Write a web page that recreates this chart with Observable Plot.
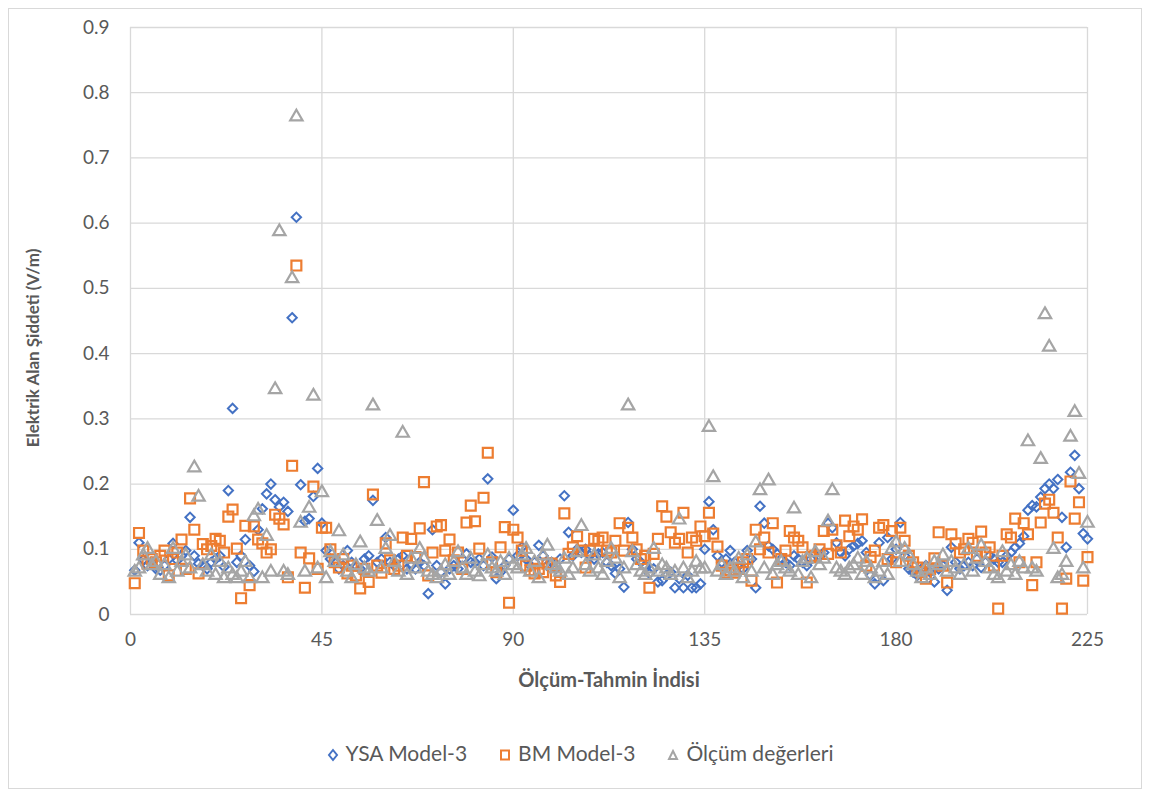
<!DOCTYPE html>
<html><head><meta charset="utf-8">
<script src="https://cdn.jsdelivr.net/npm/d3@7"></script>
<script src="https://cdn.jsdelivr.net/npm/@observablehq/plot@0.6"></script>
<style>
body{margin:0;background:#fff;font-family:Lato,"Noto Sans",sans-serif;}
#wrap{position:relative;width:1150px;height:796px;}
#frame{position:absolute;left:8px;top:8px;width:1134px;height:781px;border:1px solid #d9d9d9;box-sizing:border-box;}
#chart{position:absolute;left:0;top:0;}
#legend{position:absolute;left:0;top:740px;width:1160px;text-align:center;font-size:21px;color:#595959;}
#legend span{margin:0 16px;}
#legend svg{vertical-align:middle;margin-right:7px;position:relative;top:-1px;}
</style></head>
<body><div id="wrap"><div id="frame"></div><div id="chart"></div>
<div id="legend"></div></div>
<script>
const ysa = [
0.068,0.11,0.084,0.075,0.08,0.07,0.068,0.075,0.085,0.109,0.083,0.09,0.098,0.149,0.09,
0.078,0.075,0.07,0.08,0.085,0.09,0.073,0.19,0.316,0.08,0.09,0.115,0.075,0.066,0.13,
0.162,0.185,0.2,0.176,0.165,0.172,0.158,0.455,0.609,0.199,0.143,0.147,0.181,0.224,0.14,
0.098,0.085,0.08,0.07,0.075,0.098,0.08,0.075,0.07,0.085,0.09,0.175,0.08,0.085,0.118,
0.08,0.075,0.085,0.09,0.07,0.075,0.07,0.08,0.075,0.032,0.13,0.075,0.065,0.047,0.07,
0.075,0.07,0.085,0.093,0.08,0.08,0.085,0.075,0.208,0.088,0.055,0.065,0.075,0.085,0.16,
0.09,0.103,0.085,0.075,0.08,0.106,0.09,0.075,0.08,0.07,0.085,0.182,0.126,0.09,0.1,
0.095,0.1,0.09,0.085,0.093,0.095,0.08,0.075,0.063,0.07,0.042,0.141,0.1,0.085,0.08,
0.075,0.063,0.07,0.05,0.052,0.06,0.065,0.041,0.055,0.041,0.06,0.041,0.041,0.047,0.1,
0.173,0.13,0.09,0.08,0.085,0.098,0.08,0.075,0.07,0.098,0.085,0.041,0.166,0.14,0.105,
0.1,0.093,0.085,0.08,0.075,0.09,0.085,0.08,0.075,0.085,0.093,0.09,0.095,0.14,0.133,
0.11,0.095,0.09,0.1,0.105,0.109,0.113,0.095,0.06,0.047,0.11,0.052,0.118,0.085,0.1,
0.141,0.09,0.07,0.065,0.06,0.07,0.075,0.065,0.05,0.07,0.075,0.037,0.103,0.08,0.07,
0.075,0.08,0.075,0.085,0.072,0.08,0.09,0.085,0.08,0.08,0.09,0.095,0.103,0.109,0.12,
0.16,0.167,0.165,0.18,0.193,0.2,0.193,0.207,0.149,0.103,0.218,0.244,0.193,0.124,0.116
];
const bm = [
0.048,0.125,0.098,0.078,0.085,0.08,0.09,0.098,0.06,0.085,0.095,0.115,0.07,0.178,0.13,
0.063,0.108,0.1,0.105,0.116,0.113,0.095,0.15,0.161,0.101,0.025,0.136,0.045,0.135,0.115,
0.109,0.095,0.1,0.153,0.147,0.138,0.057,0.228,0.535,0.095,0.041,0.086,0.196,0.07,0.133,
0.133,0.1,0.08,0.072,0.085,0.063,0.075,0.06,0.04,0.07,0.05,0.184,0.075,0.064,0.109,
0.083,0.07,0.075,0.118,0.09,0.116,0.088,0.132,0.203,0.06,0.095,0.135,0.137,0.098,0.115,
0.083,0.095,0.07,0.141,0.167,0.143,0.101,0.179,0.248,0.08,0.065,0.103,0.134,0.018,0.13,
0.118,0.098,0.075,0.068,0.063,0.07,0.065,0.078,0.078,0.06,0.05,0.155,0.093,0.103,0.12,
0.098,0.072,0.098,0.116,0.113,0.118,0.098,0.095,0.113,0.14,0.098,0.133,0.118,0.1,0.085,
0.09,0.041,0.093,0.116,0.166,0.15,0.126,0.11,0.116,0.156,0.095,0.118,0.113,0.135,0.12,
0.156,0.124,0.104,0.075,0.064,0.068,0.064,0.07,0.08,0.085,0.052,0.13,0.1,0.118,0.095,
0.14,0.049,0.085,0.098,0.128,0.118,0.113,0.103,0.049,0.088,0.09,0.1,0.128,0.093,0.13,
0.106,0.095,0.144,0.12,0.135,0.13,0.146,0.075,0.088,0.098,0.133,0.137,0.085,0.128,0.08,
0.133,0.113,0.09,0.08,0.072,0.065,0.055,0.07,0.086,0.126,0.075,0.049,0.123,0.109,0.095,
0.1,0.116,0.11,0.09,0.127,0.095,0.103,0.075,0.009,0.09,0.123,0.118,0.147,0.08,0.14,
0.123,0.045,0.08,0.141,0.17,0.176,0.156,0.118,0.009,0.055,0.204,0.147,0.172,0.052,0.088
];
const olcum = [
0.065,0.07,0.09,0.1,0.075,0.08,0.06,0.075,0.055,0.1,0.065,0.08,0.09,0.07,0.225,
0.18,0.075,0.065,0.09,0.06,0.08,0.055,0.07,0.06,0.055,0.065,0.08,0.055,0.15,0.16,
0.055,0.12,0.065,0.345,0.587,0.065,0.06,0.515,0.763,0.14,0.065,0.163,0.335,0.07,0.187,
0.055,0.095,0.08,0.127,0.09,0.065,0.055,0.075,0.11,0.07,0.065,0.32,0.143,0.07,0.1,
0.12,0.08,0.065,0.278,0.06,0.085,0.07,0.1,0.085,0.065,0.06,0.055,0.065,0.075,0.06,
0.08,0.095,0.07,0.06,0.085,0.065,0.058,0.075,0.09,0.07,0.065,0.08,0.06,0.085,0.075,
0.07,0.09,0.1,0.065,0.08,0.055,0.09,0.105,0.075,0.07,0.065,0.085,0.06,0.07,0.095,
0.135,0.075,0.065,0.09,0.07,0.06,0.08,0.1,0.085,0.055,0.07,0.32,0.095,0.075,0.065,
0.06,0.07,0.1,0.065,0.075,0.07,0.06,0.065,0.145,0.07,0.055,0.065,0.08,0.07,0.07,
0.287,0.21,0.065,0.075,0.06,0.07,0.065,0.085,0.055,0.09,0.065,0.11,0.19,0.07,0.205,
0.06,0.075,0.08,0.07,0.065,0.162,0.06,0.08,0.085,0.055,0.095,0.075,0.085,0.142,0.19,
0.07,0.065,0.06,0.07,0.075,0.085,0.06,0.08,0.07,0.055,0.065,0.08,0.06,0.1,0.11,
0.08,0.1,0.09,0.075,0.065,0.055,0.07,0.06,0.08,0.075,0.09,0.065,0.08,0.07,0.06,
0.075,0.1,0.065,0.085,0.105,0.08,0.07,0.06,0.055,0.095,0.065,0.075,0.06,0.08,0.07,
0.265,0.07,0.065,0.238,0.46,0.41,0.1,0.055,0.06,0.08,0.272,0.31,0.215,0.07,0.14
];
const seriesNames = ["YSA Model-3","BM Model-3","Ölçüm değerleri"];
const seriesColors = ["#4472C4","#ED7D31","#A5A5A5"];
const yTicks = [0,0.1,0.2,0.3,0.4,0.5,0.6,0.7,0.8,0.9];
const xTicks = [0,45,90,135,180,225];

const toRows = arr => arr.map((v,i)=>({i:i+1,v}));
const yFmt = d => d===0 ? "0" : d3.format(".1f")(d);
const chart = Plot.plot({
  width:1150, height:700,
  marginLeft:130, marginRight:63, marginTop:27, marginBottom:86,
  style:{fontFamily:"Lato, 'Noto Sans', sans-serif", fontSize:"19px", color:"#595959", background:"transparent"},
  x:{domain:[0,225], label:null},
  y:{domain:[0,0.9], label:null},
  marks:[
    Plot.gridY(yTicks,{stroke:"#d9d9d9",strokeOpacity:1,strokeWidth:1.3}),
    Plot.gridX(xTicks,{stroke:"#d9d9d9",strokeOpacity:1,strokeWidth:1.3}),
    Plot.axisX({ticks:xTicks, tickSize:0, tickPadding:18, label:null, fill:"#595959", fontSize:19}),
    Plot.axisY({ticks:yTicks, tickSize:0, tickPadding:21, label:null, fill:"#595959", fontSize:19, tickFormat:yFmt}),
    Plot.dot(toRows(ysa),{x:"i",y:"v",symbol:"diamond2",r:4.2,stroke:seriesColors[0],strokeWidth:2,fill:"none"}),
    Plot.dot(toRows(bm),{x:"i",y:"v",symbol:"square2",r:6.3,stroke:seriesColors[1],strokeWidth:2.2,fill:"none"}),
    Plot.dot(toRows(olcum),{x:"i",y:"v",symbol:"triangle2",r:5.9,stroke:seriesColors[2],strokeWidth:2.2,fill:"none"}),
    Plot.text(["Elektrik Alan Şiddeti (V/m)"],{frameAnchor:"left",textAnchor:"middle",dx:-97,dy:27,rotate:-90,fontWeight:"bold",fontSize:17,fill:"#595959",text:d=>d}),
    Plot.text(["Ölçüm-Tahmin İndisi"],{frameAnchor:"bottom",dy:72,fontWeight:"bold",fontSize:20,fill:"#595959",text:d=>d})
  ]
});
document.getElementById("chart").appendChild(chart);

const legendSyms = [
 '<svg width="12" height="14"><path d="M6,2L10,7L6,12L2,7Z" fill="none" stroke="#4472C4" stroke-width="2"/></svg>',
 '<svg width="12" height="14"><rect x="2" y="2.5" width="8" height="9" fill="none" stroke="#ED7D31" stroke-width="2"/></svg>',
 '<svg width="12" height="14"><path d="M6,3L10,11L2,11Z" fill="none" stroke="#A5A5A5" stroke-width="2"/></svg>'
];
document.getElementById("legend").innerHTML = seriesNames.map((n,k)=>`<span>${legendSyms[k]}${n}</span>`).join("");
</script>
</body></html>
